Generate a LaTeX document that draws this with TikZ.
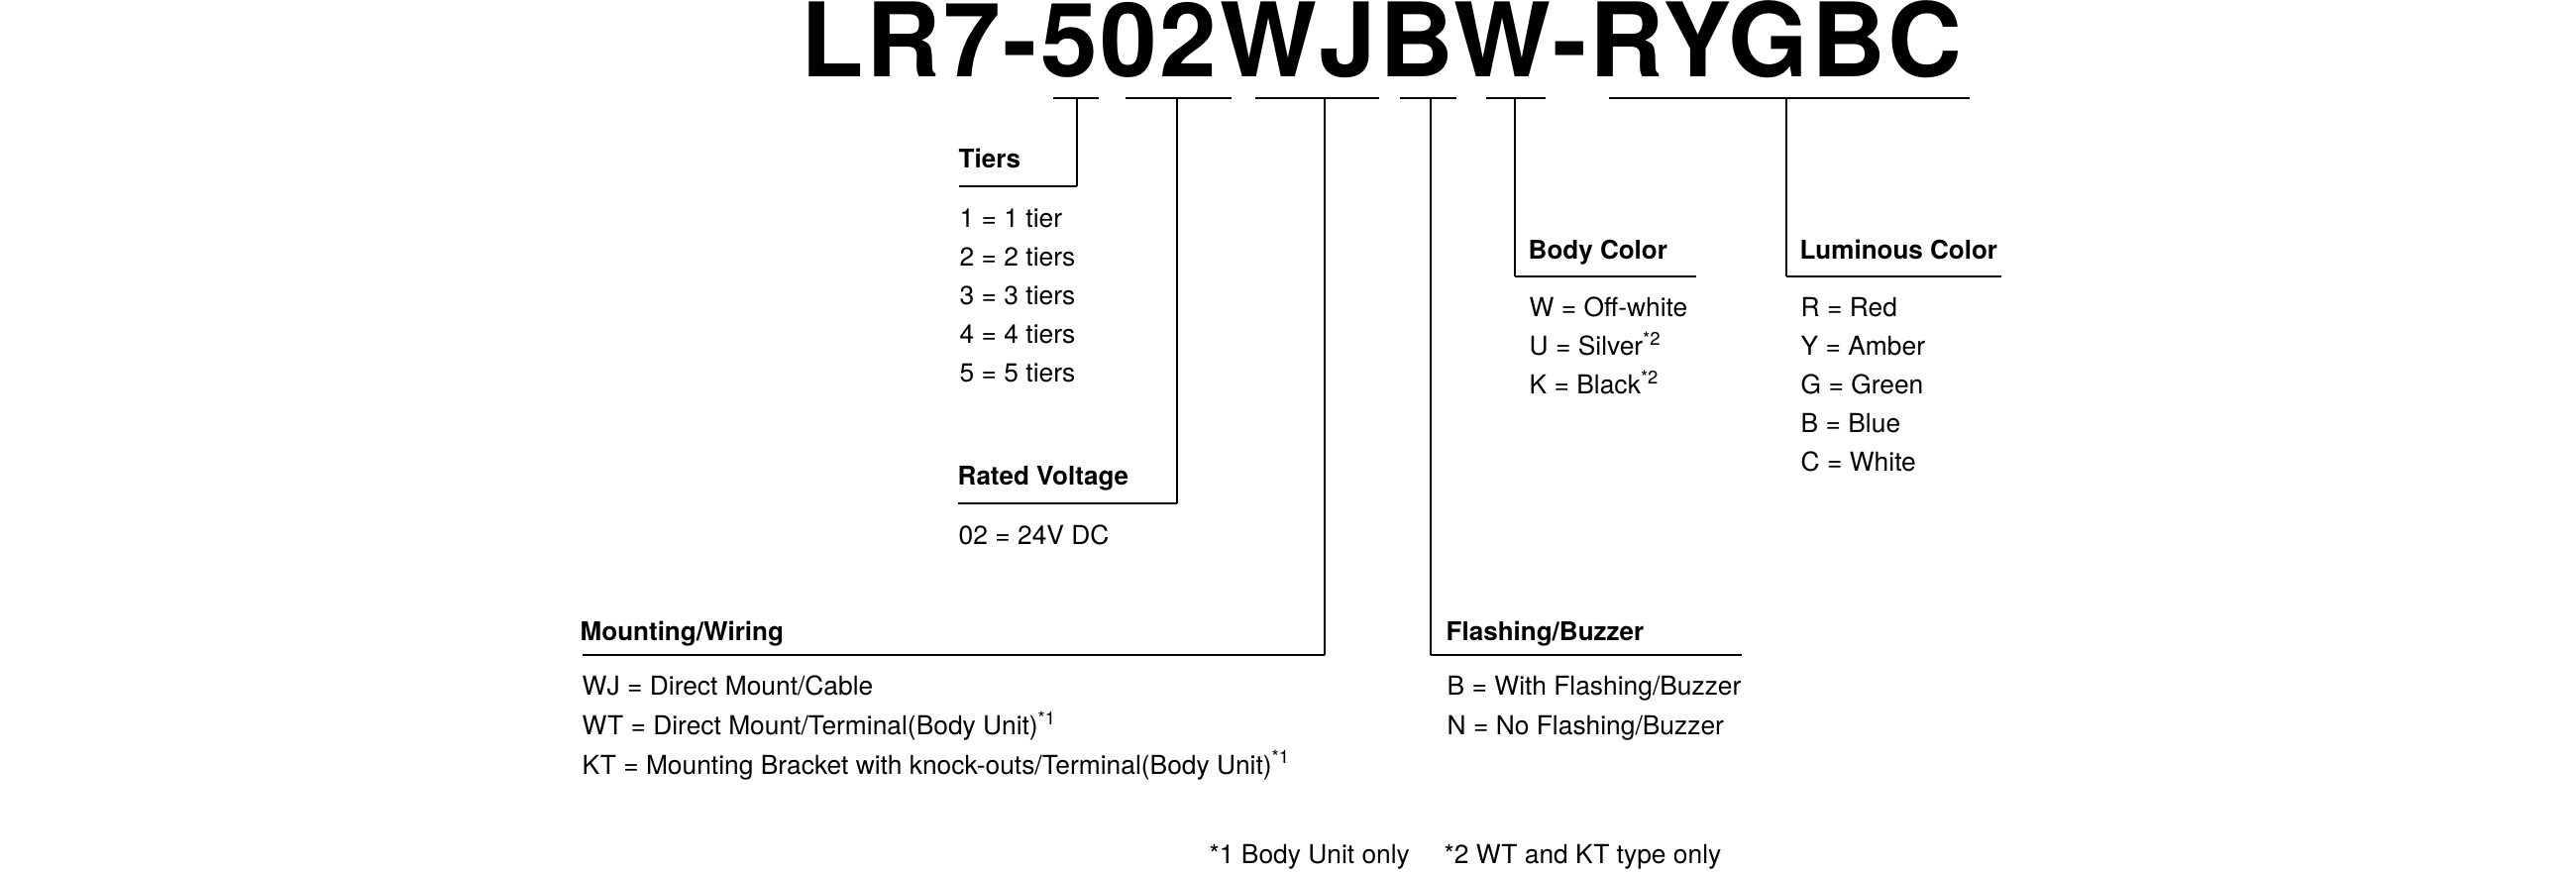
\documentclass[tikz,border=0pt]{standalone}
\usepackage{fontspec}
\setmainfont{TeX Gyre Heros}
\newfontfamily\codefont[LetterSpace=2.6]{TeX Gyre Heros}
\tikzset{every node/.style={inner sep=0pt,anchor=base west}}
\tikzset{hd/.style={font=\fontsize{7.4}{9}\selectfont\bfseries}}
\tikzset{opt/.style={font=\fontsize{7.5}{9}\selectfont}}
\tikzset{seg/.style={line width=0.6pt}}
\tikzset{stem/.style={line width=0.4pt}}
\tikzset{rule/.style={line width=0.55pt}}

\begin{document}
\begin{tikzpicture}[x=0.01cm,y=-0.01cm]
  \useasboundingbox (0,0) rectangle (2600,880);
  \node[font=\codefont\fontsize{29.5}{30}\selectfont\bfseries] (code) at (808,78) {LR7-502WJBW-RYGBC};
  % bars under the code
  \foreach \a/\b/\m [count=\i] in {1063/1109/1087,1136/1243/1188,1267/1392/1337,1413/1470/1444,1500/1560/1529,1624/1988/1803}
    {\coordinate (s\i) at (\m,99);
     \draw[seg] (\a,99) -- (\b,99);}

  % tiers
  \node[hd] (tiers) at (967,170) {Tiers};
  \coordinate (tiersR) at (968,188);
  \draw[stem] (s1) -- (s1 |- tiersR);
  \draw[rule] (tiersR) -- (s1 |- tiersR);
  \foreach \t [count=\i from 0] in {1 = 1 tier,2 = 2 tiers,3 = 3 tiers,4 = 4 tiers,5 = 5 tiers}
    \node[opt] (tiers\i) at (968,{230+38.8*\i}) {\t};

  % voltage
  \node[hd] (volt) at (966,490) {Rated Voltage};
  \coordinate (voltR) at (967,508);
  \draw[stem] (s2) -- (s2 |- voltR);
  \draw[rule] (voltR) -- (s2 |- voltR);
  \node[opt] (volt0) at (967,550) {02 = 24V DC};

  % mounting
  \node[hd] (mount) at (585,647) {Mounting/Wiring};
  \coordinate (mountR) at (588,661);
  \draw[stem] (s3) -- (s3 |- mountR);
  \draw[rule] (mountR) -- (s3 |- mountR);
  \foreach \t [count=\i from 0] in {WJ = Direct Mount/Cable,
      WT = Direct Mount/Terminal(Body Unit)\textsuperscript{*1},
      KT = Mounting Bracket with knock-outs/Terminal(Body Unit)\textsuperscript{*1}}
    \node[opt] (mount\i) at (587,{702+39.8*\i}) {\t};

  % flashing
  \node[hd] (flash) at (1459,647) {Flashing/Buzzer};
  \coordinate (flashR) at (1758,661);
  \draw[stem] (s4) -- (s4 |- flashR);
  \draw[rule] (s4 |- flashR) -- (flashR);
  \node[opt] (flash0) at (1460,702) {B = With Flashing/Buzzer};
  \node[opt] (flash1) at (1460,742) {N = No Flashing/Buzzer};

  % body colour
  \node[hd] (body) at (1542,262) {Body Color};
  \coordinate (bodyR) at (1712,279);
  \draw[stem] (s5) -- (s5 |- bodyR);
  \draw[rule] (s5 |- bodyR) -- (bodyR);
  \foreach \t [count=\i from 0] in {W = Off-white,U = Silver\textsuperscript{*2},K = Black\textsuperscript{*2}}
    \node[opt] (body\i) at (1543,{320+39*\i}) {\t};

  % luminous colour
  \node[hd] (lum) at (1816,262) {Luminous Color};
  \coordinate (lumR) at (2020,279);
  \draw[stem] (s6) -- (s6 |- lumR);
  \draw[rule] (s6 |- lumR) -- (lumR);
  \foreach \t [count=\i from 0] in {R = Red,Y = Amber,G = Green,B = Blue,C = White}
    \node[opt] (lum\i) at (1817,{320+39*\i}) {\t};

  % notes
  \node[opt] (note1) at (1220,872) {*1 Body Unit only};
  \node[opt] (note2) at (1457,872) {*2 WT and KT type only};
\end{tikzpicture}
\end{document}
